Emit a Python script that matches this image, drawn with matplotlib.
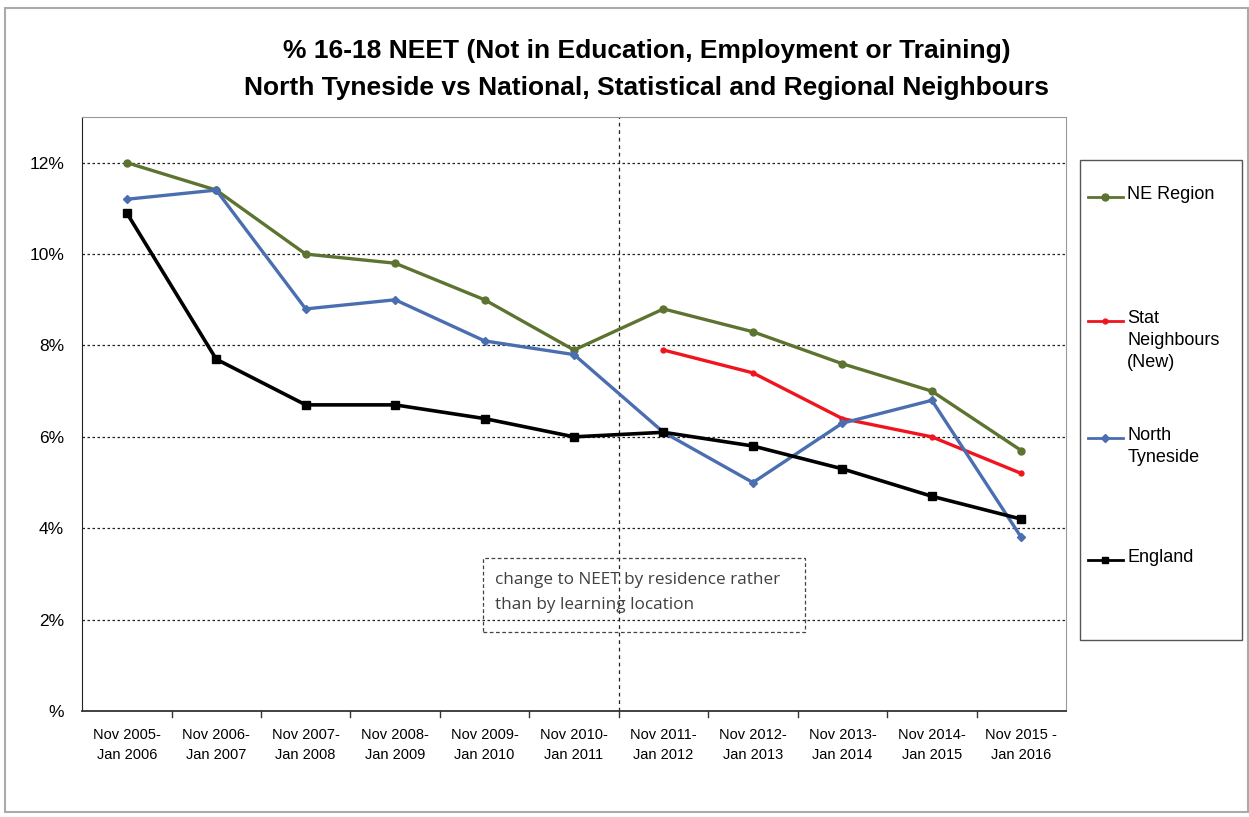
import matplotlib.pyplot as plt
from matplotlib.lines import Line2D
from matplotlib.patches import Rectangle
from matplotlib.ticker import FuncFormatter

plt.rcParams['font.family'] = ['Liberation Sans', 'DejaVu Sans']

PERIODS = ["Nov 2005-\nJan 2006", "Nov 2006-\nJan 2007", "Nov 2007-\nJan 2008",
           "Nov 2008-\nJan 2009", "Nov 2009-\nJan 2010", "Nov 2010-\nJan 2011",
           "Nov 2011-\nJan 2012", "Nov 2012-\nJan 2013", "Nov 2013-\nJan 2014",
           "Nov 2014-\nJan 2015", "Nov 2015 -\nJan 2016"]

ne_region = [12.0, 11.4, 10.0, 9.8, 9.0, 7.9, 8.8, 8.3, 7.6, 7.0, 5.7]
north_tyneside = [11.2, 11.4, 8.8, 9.0, 8.1, 7.8, 6.1, 5.0, 6.3, 6.8, 3.8]
england = [10.9, 7.7, 6.7, 6.7, 6.4, 6.0, 6.1, 5.8, 5.3, 4.7, 4.2]
# stat neighbours (new) only start from Nov 2011
stat_start = 6
stat_neighbours = [7.9, 7.4, 6.4, 6.0, 5.2]

NE_COL = "#5d7330"
NT_COL = "#4a6eb0"
SN_COL = "#f0141e"
EN_COL = "#000000"


def main():
    fig = plt.figure(figsize=(12.49, 8.17), dpi=100)
    ax = fig.add_axes([0.0657, 0.1297, 0.7878, 0.7271])

    x = list(range(len(PERIODS)))
    x_sn = x[stat_start:]

    ax.plot(x, ne_region, color=NE_COL, lw=2.4, marker="o", ms=5, zorder=4)
    ax.plot(x_sn, stat_neighbours, color=SN_COL, lw=2.4, marker="o", ms=3.5, zorder=5)
    ax.plot(x, north_tyneside, color=NT_COL, lw=2.4, marker="D", ms=4, zorder=5)
    ax.plot(x, england, color=EN_COL, lw=2.6, marker="s", ms=5.5, zorder=6)

    ax.set_xlim(-0.5, len(PERIODS) - 0.5)
    ax.set_ylim(0, 13)
    ax.set_yticks(range(0, 13, 2))
    ax.yaxis.set_major_formatter(
        FuncFormatter(lambda v, p: "%" if v == 0 else "%d%%" % v))
    ax.tick_params(axis="y", length=0, labelsize=12.5, pad=13)
    for y in range(2, 13, 2):
        ax.axhline(y, color="#222222", lw=0.9, ls=(0, (2, 2)), zorder=1)

    ax.set_xticks(x)
    ax.set_xticklabels(PERIODS, fontsize=10.5, linespacing=1.6)
    ax.tick_params(axis="x", length=0, pad=12)
    for b in [i + 0.5 for i in x[:-1]]:
        ax.plot([b, b], [0, -0.12], color="#333333", lw=1, clip_on=False)

    for s in ["top", "right"]:
        ax.spines[s].set_color("#999999")
    ax.spines["left"].set_color("#222222")
    ax.spines["bottom"].set_color("#333333")
    ax.spines["bottom"].set_linewidth(1.3)

    # change in methodology
    ax.axvline(5.5, color="#222222", lw=0.9, ls=(0, (3, 3)), zorder=2)
    ax.add_patch(Rectangle((3.98, 1.72), 3.6, 1.62, fill=False, ec="#444444",
                           lw=0.9, ls=(0, (3, 2)), zorder=3))
    ax.text(4.12, 3.04, "change to NEET by residence rather\nthan by learning location",
            fontsize=12.3, color="#404040", va="top", linespacing=1.7,
            family=["Open Sans", "DejaVu Sans"], zorder=4)

    fig.suptitle("% 16-18 NEET (Not in Education, Employment or Training)\n"
                 "North Tyneside vs National, Statistical and Regional Neighbours",
                 x=0.518, y=0.952, fontsize=19, fontweight="bold", linespacing=1.65)

    # legend box drawn by hand so handles sit at the first text line
    fig.patches.append(Rectangle((0.8647, 0.2166), 0.1297, 0.5875, transform=fig.transFigure,
                                 fill=False, ec="#555555", lw=1))
    entries = [("NE Region", NE_COL, "o", 5, 0.7589),
               ("Stat\nNeighbours\n(New)", SN_COL, "o", 3.5, 0.6070),
               ("North\nTyneside", NT_COL, "D", 4, 0.4639),
               ("England", EN_COL, "s", 5, 0.3146)]
    for label, col, mk, ms, yy in entries:
        fig.lines.append(Line2D([0.8710, 0.8990], [yy, yy], transform=fig.transFigure,
                                color=col, lw=2))
        fig.lines.append(Line2D([0.8850], [yy], transform=fig.transFigure,
                                color=col, marker=mk, ms=ms, lw=0))
        fig.text(0.9025, yy + 0.013, label, fontsize=13, va="top", linespacing=1.35)

    # outer frame
    fig.patches.append(Rectangle((0.004, 0.006), 0.995, 0.984, transform=fig.transFigure,
                                 fill=False, ec="#aaaaaa", lw=1.5))

    fig.savefig("out.png", dpi=100)


if __name__ == "__main__":
    main()
